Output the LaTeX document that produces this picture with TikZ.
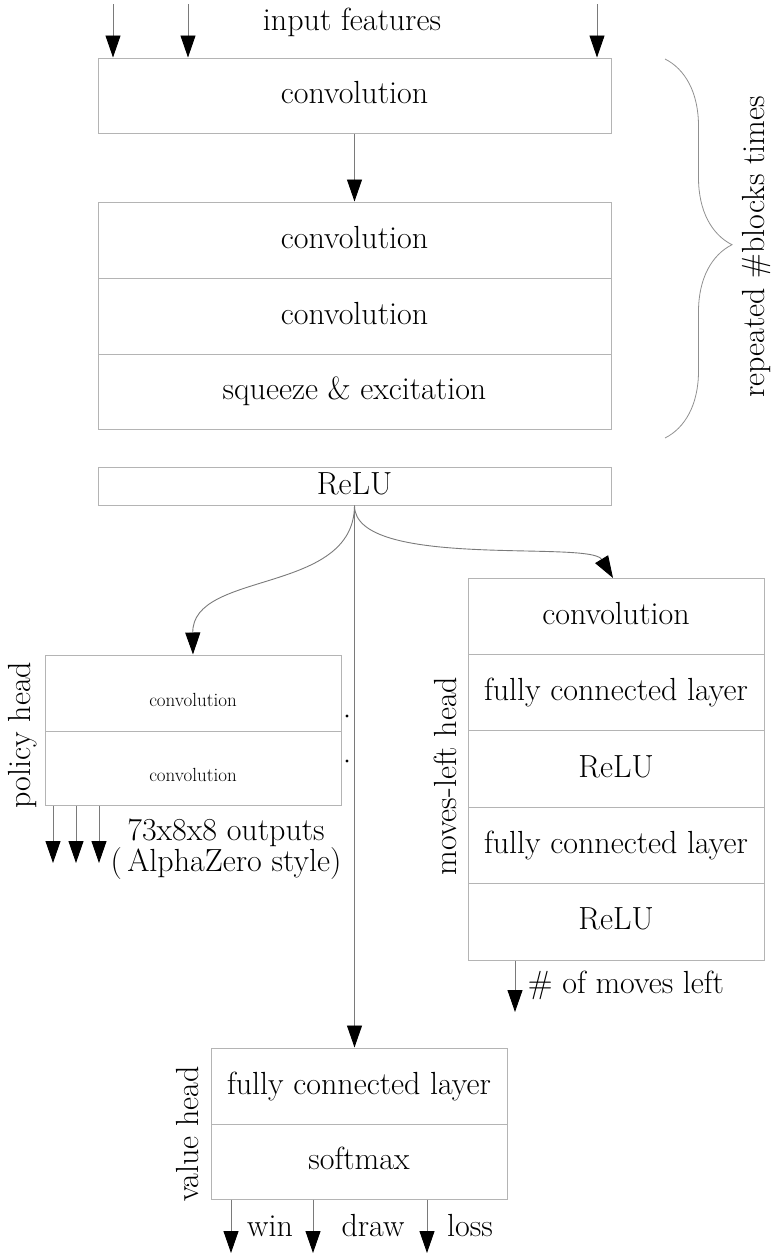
\documentclass[tikz,border=0pt]{standalone}
\usetikzlibrary{arrows.meta,decorations.pathreplacing}
\definecolor{boxgray}{HTML}{B4B4B4}
\definecolor{linegray}{HTML}{7A7A7A}
\begin{document}
\begin{tikzpicture}[x=1pt,y=-1pt,
  bigtext/.style={font=\fontsize{32}{31}\selectfont},
  smalltext/.style={font=\fontsize{19}{22}\selectfont},
  layer/.style={draw=boxgray, line width=1pt, bigtext, inner sep=0pt,
                text height=23pt, text depth=7pt},
  wide/.style={layer, minimum width=513pt},
  narrow/.style={layer, minimum width=296pt},
  smalllayer/.style={draw=boxgray, line width=1pt, smalltext, inner sep=0pt,
                minimum width=296pt, text height=30pt, text depth=4pt},
  conn/.style={draw=linegray, line width=0.9pt,
               -{Triangle[width=15pt,length=22pt,color=black]}},
  lbl/.style={bigtext, inner sep=0pt},
  sidelbl/.style={bigtext, inner sep=0pt, rotate=90}
]
\useasboundingbox (0,0) rectangle (778,1256);

% input
\node[lbl] (inlbl) at (352,22) {input features};
\coordinate (in1) at (113,4);
\coordinate (in2) at (188,4);
\coordinate (in3) at (597,4);

% residual tower
\node[wide, minimum height=75pt] (conv0) at (354.5,95.5) {convolution};
\node[wide, minimum height=76pt] (b1) at (354.5,240) {convolution};
\node[wide, minimum height=76pt] (b2) at (354.5,316) {convolution};
\node[wide, minimum height=75pt] (b3) at (354.5,391.5) {squeeze \& excitation};
\node[wide, minimum height=38pt] (relu) at (354.5,486) {ReLU};

\draw[conn] (in1) -- (in1 |- conv0.north);
\draw[conn] (in2) -- (in2 |- conv0.north);
\draw[conn] (in3) -- (in3 |- conv0.north);
\draw[conn] (conv0.south) -- (b1.north);

% brace
\coordinate (brtop) at (665,59);
\coordinate (brbot) at (665,438);
\draw[boxgray!80!black, line width=0.8pt, decorate,
      decoration={brace, amplitude=67pt, aspect=0.49}] (brtop) -- (brbot);
\node[sidelbl] (replbl) at (757,247) {repeated \#blocks times};

% policy head
\node[smalllayer, minimum height=76pt] (pol1) at (193,693) {convolution};
\node[smalllayer, minimum height=74pt] (pol2) at (193,768) {convolution};
\node[sidelbl] (pollbl) at (23,735) {policy head};
\fill (347,716) circle (1.6pt);
\fill (347,761) circle (1.6pt);
\coordinate (po1) at (53,863);
\coordinate (po2) at (76,863);
\coordinate (po3) at (99,863);
\draw[conn] (po1 |- pol2.south) -- (po1);
\draw[conn] (po2 |- pol2.south) -- (po2);
\draw[conn] (po3 |- pol2.south) -- (po3);
\node[lbl, align=center] (polout) at (226,849) {73x8x8 outputs\\(\,AlphaZero style)};

% moves-left head
\node[narrow, minimum height=76.4pt] (m1) at (616,616.2) {convolution};
\node[narrow, minimum height=76.4pt] (m2) at (616,692.6) {fully connected layer};
\node[narrow, minimum height=76.4pt] (m3) at (616,769) {ReLU};
\node[narrow, minimum height=76.4pt] (m4) at (616,845.4) {fully connected layer};
\node[narrow, minimum height=76.4pt] (m5) at (616,921.8) {ReLU};
\node[sidelbl] (mlbl) at (445,776) {moves-left head};
\coordinate (mo) at (515,1012);
\draw[conn] (mo |- m5.south) -- (mo);
\node[lbl] (molbl) at (626,985) {\# of moves left};

% value head
\node[narrow, minimum height=76pt] (v1) at (359,1086) {fully connected layer};
\node[narrow, minimum height=75pt] (v2) at (359,1161.5) {softmax};
\node[sidelbl] (vlbl) at (188,1134) {value head};
\coordinate (vo1) at (231,1253);
\coordinate (vo2) at (313,1253);
\coordinate (vo3) at (427,1253);
\draw[conn] (vo1 |- v2.south) -- (vo1);
\draw[conn] (vo2 |- v2.south) -- (vo2);
\draw[conn] (vo3 |- v2.south) -- (vo3);
\node[lbl] (win) at (270,1226) {win};
\node[lbl] (drw) at (373,1226) {draw};
\node[lbl] (loss) at (470,1226) {loss};

% connectors from ReLU
\draw[conn] (relu.south) .. controls (354,595) and (192,570) .. (pol1.north);
\draw[conn] (relu.south) .. controls (354,570) and (590,540) .. (613,578);
\draw[conn] (relu.south) -- (relu.south |- v1.north);
\end{tikzpicture}
\end{document}
